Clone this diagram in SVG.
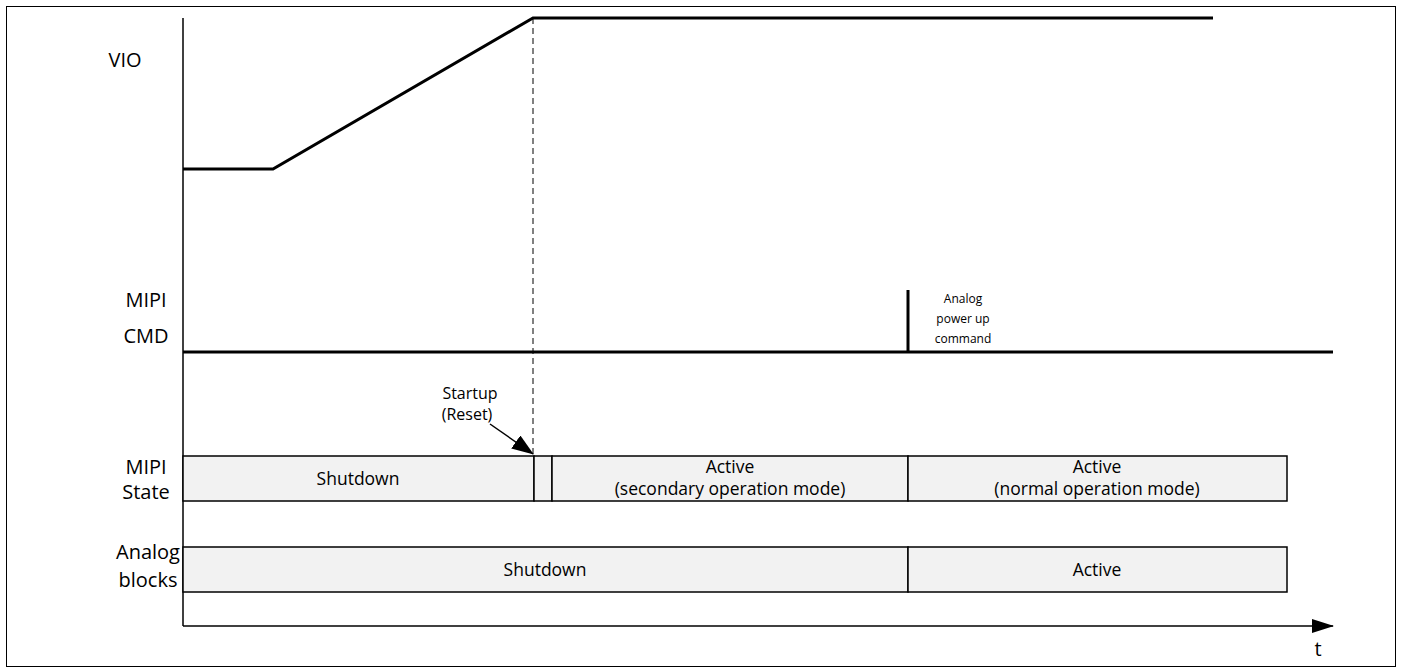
<svg xmlns="http://www.w3.org/2000/svg" width="1402" height="672" viewBox="0 0 1402 672">
<style>
text{font-family:"Open Sans","Liberation Sans",sans-serif;fill:#000}
.lbl{font-size:20px;text-anchor:middle}
.st{font-size:17.5px;text-anchor:middle}
.su{font-size:16px;text-anchor:middle}
.sm{font-size:12px;text-anchor:middle}
.box{fill:#f2f2f2;stroke:#000;stroke-width:1.5}
.sig{fill:none;stroke:#000;stroke-width:3}
.ax{fill:none;stroke:#000;stroke-width:1.5}
</style>
<defs>
<marker id="ah" markerWidth="22" markerHeight="16" refX="21" refY="8" orient="auto" markerUnits="userSpaceOnUse"><path d="M0,0 L22,8 L0,16 z" fill="#000"/></marker>
<marker id="big" markerWidth="22" markerHeight="14" refX="21" refY="7" orient="auto" markerUnits="userSpaceOnUse"><path d="M0,0 L22,7 L0,14 z" fill="#000"/></marker>
</defs>
<rect x="6.5" y="6.5" width="1389" height="660" fill="#fff" stroke="#000" stroke-width="1"/>
<g id="labels">
<text class="lbl" x="125" y="67">VIO</text>
<text class="lbl" x="146" y="307">MIPI</text>
<text class="lbl" x="146" y="343">CMD</text>
<text class="lbl" x="146" y="474">MIPI</text>
<text class="lbl" x="146" y="499">State</text>
<text class="lbl" x="148" y="559">Analog</text>
<text class="lbl" x="148" y="587">blocks</text>
</g>
<g id="connectors">
<line class="ax" x1="183" y1="18" x2="183" y2="626"/>
<line x1="183" y1="626" x2="1333" y2="626" stroke="#000" stroke-width="1.5" marker-end="url(#big)"/>
<polyline class="sig" points="183,169 273,169 533,18 1213,18"/>
<line x1="533" y1="18" x2="533" y2="456" stroke="#000" stroke-width="1" stroke-dasharray="6,4"/>
<line class="sig" x1="183" y1="352" x2="1333" y2="352"/>
<line class="sig" x1="908" y1="290" x2="908" y2="352"/>
<line x1="490" y1="424" x2="533" y2="454" stroke="#000" stroke-width="1.5" marker-end="url(#ah)"/>
</g>
<g id="t-label"><text class="lbl" x="1318" y="656">t</text></g>
<g id="cmd-note">
<text class="sm" x="963" y="303">Analog</text>
<text class="sm" x="963" y="323">power up</text>
<text class="sm" x="963" y="343">command</text>
</g>
<g id="startup-note">
<text class="su" x="470" y="399">Startup</text>
<text class="su" x="467" y="420">(Reset)</text>
</g>
<g id="mipi-shutdown">
<rect class="box" x="183" y="456" width="351" height="45"/>
<text class="st" x="358" y="485">Shutdown</text>
</g>
<g id="mipi-startup">
<rect class="box" x="534" y="456" width="18" height="45"/>
</g>
<g id="mipi-active-secondary">
<rect class="box" x="552" y="456" width="356" height="45"/>
<text class="st" x="730" y="473">Active</text>
<text class="st" x="730" y="495">(secondary operation mode)</text>
</g>
<g id="mipi-active-normal">
<rect class="box" x="908" y="456" width="379" height="45"/>
<text class="st" x="1097" y="473">Active</text>
<text class="st" x="1097" y="495">(normal operation mode)</text>
</g>
<g id="analog-shutdown">
<rect class="box" x="183" y="547" width="725" height="45"/>
<text class="st" x="545" y="576">Shutdown</text>
</g>
<g id="analog-active">
<rect class="box" x="908" y="547" width="379" height="45"/>
<text class="st" x="1097" y="576">Active</text>
</g>
</svg>
